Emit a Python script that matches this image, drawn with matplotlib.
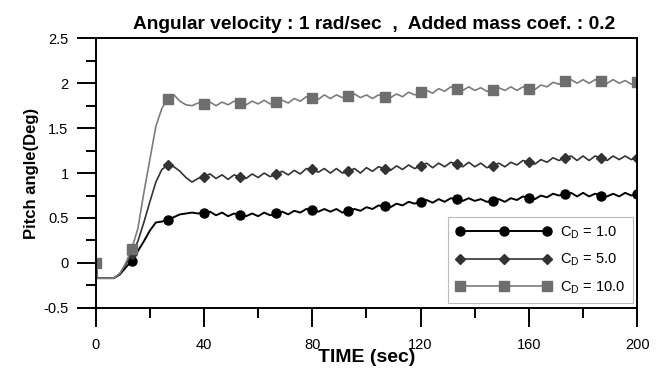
import numpy as np
import matplotlib
matplotlib.use("Agg")
import matplotlib.pyplot as plt

plt.rcParams['font.family'] = ['Liberation Sans', 'DejaVu Sans']
plt.rcParams['mathtext.fontset'] = 'custom'
plt.rcParams['mathtext.rm'] = 'Liberation Sans'
plt.rcParams['axes.unicode_minus'] = False

# time samples (sec)
time = [0, 0.6, 2.22, 4.44, 6.67, 8.89, 11.11, 13.33, 15.56, 17.78, 20, 22.22, 24.44,
        26.67, 28.89, 31.11, 33.33, 35.56, 37.78,
        40, 42.22, 44.44, 46.67, 48.89, 51.11,
        53.33, 55.56, 57.78, 60, 62.22, 64.44,
        66.67, 68.89, 71.11, 73.33, 75.56, 77.78,
        80, 82.22, 84.44, 86.67, 88.89, 91.11,
        93.33, 95.56, 97.78, 100, 102.22, 104.44,
        106.67, 108.89, 111.11, 113.33, 115.56, 117.78,
        120, 122.22, 124.44, 126.67, 128.89, 131.11,
        133.33, 135.56, 137.78, 140, 142.22, 144.44,
        146.67, 148.89, 151.11, 153.33, 155.56, 157.78,
        160, 162.22, 164.44, 166.67, 168.89, 171.11,
        173.33, 175.56, 177.78, 180, 182.22, 184.44,
        186.67, 188.89, 191.11, 193.33, 195.56, 197.78,
        200]

# times where the markers sit
marker_times = [0, 13.33, 26.67, 40, 53.33, 66.67, 80, 93.33, 106.67, 120,
                133.33, 146.67, 160, 173.33, 186.67, 200]

pitch_cd1 = [0, -0.17, -0.17, -0.17, -0.17, -0.13, -0.05, 0.02, 0.13, 0.24, 0.36, 0.45, 0.46,
             0.48, 0.51, 0.54, 0.55, 0.56, 0.55,
             0.56, 0.57, 0.53, 0.56, 0.52, 0.55,
             0.53, 0.52, 0.55, 0.52, 0.56, 0.53,
             0.55, 0.57, 0.54, 0.58, 0.56, 0.60,
             0.59, 0.57, 0.60, 0.57, 0.60, 0.56,
             0.58, 0.60, 0.58, 0.62, 0.60, 0.64,
             0.63, 0.62, 0.66, 0.64, 0.68, 0.66,
             0.68, 0.70, 0.67, 0.71, 0.68, 0.72,
             0.71, 0.69, 0.72, 0.69, 0.71, 0.68,
             0.69, 0.71, 0.68, 0.72, 0.70, 0.74,
             0.72, 0.71, 0.75, 0.73, 0.77, 0.75,
             0.77, 0.78, 0.74, 0.78, 0.74, 0.77,
             0.75, 0.74, 0.77, 0.74, 0.78, 0.75,
             0.77]

pitch_cd5 = [0, -0.17, -0.17, -0.17, -0.17, -0.12, -0.02, 0.10, 0.24, 0.45, 0.68, 0.90, 1.04,
             1.09, 1.07, 1.02, 0.95, 0.90, 0.94,
             0.96, 0.99, 0.94, 0.98, 0.93, 0.98,
             0.955, 0.94, 0.99, 0.95, 1.00, 0.96,
             0.99, 1.02, 0.98, 1.03, 0.99, 1.05,
             1.04, 1.01, 1.05, 1.00, 1.05, 1.00,
             1.02, 1.05, 1.00, 1.06, 1.02, 1.07,
             1.05, 1.03, 1.08, 1.04, 1.09, 1.05,
             1.08, 1.11, 1.06, 1.11, 1.07, 1.12,
             1.10, 1.07, 1.12, 1.07, 1.11, 1.06,
             1.08, 1.11, 1.07, 1.12, 1.09, 1.14,
             1.12, 1.10, 1.15, 1.12, 1.17, 1.14,
             1.17, 1.19, 1.14, 1.19, 1.14, 1.19,
             1.17, 1.14, 1.19, 1.15, 1.19, 1.15,
             1.17]

pitch_cd10 = [0, -0.17, -0.17, -0.17, -0.17, -0.12, 0.00, 0.16, 0.38, 0.78, 1.15, 1.52, 1.72,
              1.83, 1.87, 1.80, 1.76, 1.75, 1.78,
              1.77, 1.79, 1.75, 1.79, 1.76, 1.80,
              1.78, 1.76, 1.80, 1.77, 1.81, 1.77,
              1.79, 1.81, 1.78, 1.83, 1.80, 1.85,
              1.84, 1.82, 1.87, 1.83, 1.87, 1.84,
              1.86, 1.88, 1.84, 1.87, 1.83, 1.87,
              1.85, 1.84, 1.88, 1.85, 1.90, 1.87,
              1.90, 1.92, 1.89, 1.94, 1.91, 1.96,
              1.94, 1.92, 1.96, 1.92, 1.95, 1.91,
              1.93, 1.95, 1.92, 1.96, 1.92, 1.96,
              1.94, 1.93, 1.98, 1.96, 2.01, 1.99,
              2.02, 2.04, 2.00, 2.04, 2.00, 2.04,
              2.02, 2.00, 2.04, 2.00, 2.03, 1.99,
              2.01]

labels = [r'C$_\mathrm{D}$ = 1.0', r'C$_\mathrm{D}$ = 5.0', r'C$_\mathrm{D}$ = 10.0']
yticks = [-0.5, 0, 0.5, 1, 1.5, 2, 2.5]
ytick_labels = ['-0.5', '0', '0.5', '1', '1.5', '2', '2.5']
xticks = [0, 40, 80, 120, 160, 200]

t = np.array(time)
mark_idx = [int(np.argmin(np.abs(t - m))) for m in marker_times]

fig = plt.figure(figsize=(6.6, 3.74), dpi=100)
ax = fig.add_axes([0.145, 0.177, 0.8205, 0.7205])

ax.plot(t, pitch_cd1, color='black', lw=1.4, marker='o', ms=6.5,
        markevery=mark_idx, label=labels[0])
ax.plot(t, pitch_cd5, color='#333333', lw=1.2, marker='D', ms=5,
        markevery=mark_idx, label=labels[1])
ax.plot(t, pitch_cd10, color='#7c7c7c', lw=1.2, marker='s', ms=7,
        markerfacecolor='#6e6e6e', markeredgecolor='#6e6e6e',
        markevery=mark_idx, label=labels[2])

ax.set_xlim(0, 200)
ax.set_ylim(-0.5, 2.5)
ax.set_xticks(xticks)
ax.set_xticks([20, 60, 100, 140, 180], minor=True)
ax.set_yticks(yticks)
ax.set_yticklabels(ytick_labels)
ax.set_yticks([-0.25, 0.25, 0.75, 1.25, 1.75, 2.25], minor=True)
ax.tick_params(which='major', direction='out', length=13.5, width=1.4, labelsize=10.5)
ax.tick_params(which='minor', direction='out', length=7, width=1.4)
ax.tick_params(axis='x', which='major', pad=8)
ax.tick_params(axis='y', which='major', pad=6)
for sp in ax.spines.values():
    sp.set_linewidth(1.4)

ax.set_xlabel('TIME (sec)', fontsize=14, fontweight='bold', labelpad=-2)
ax.set_ylabel('Pitch angle(Deg)', fontsize=12, fontweight='bold', labelpad=3)
ax.set_title('Angular velocity : 1 rad/sec  ,  Added mass coef. : 0.2',
             fontsize=13.8, fontweight='bold', pad=7, x=0.515)

leg = ax.legend(loc='lower right', fontsize=10.5, handlelength=6.6, numpoints=3,
                frameon=True, fancybox=False, framealpha=1, borderaxespad=0.3,
                labelspacing=0.75, handletextpad=0.6, borderpad=0.5)
leg.get_frame().set_edgecolor('#bbbbbb')
leg.get_frame().set_linewidth(0.8)

fig.savefig('out.png', dpi=100)
